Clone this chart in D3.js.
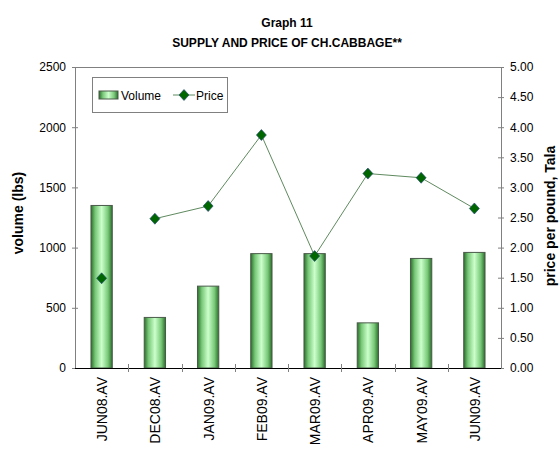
<!DOCTYPE html>
<html><head><meta charset="utf-8">
<script src="https://cdn.jsdelivr.net/npm/d3@7"></script>
<style>body{margin:0;background:#fff}svg{display:block;font-family:"Liberation Sans",Arial,sans-serif}</style>
</head><body><svg id="c" width="560" height="449"></svg>
<script>
const categories = ["JUN08.AV","DEC08.AV","JAN09.AV","FEB09.AV","MAR09.AV","APR09.AV","MAY09.AV","JUN09.AV"];
const volume = [1350, 420, 680, 950, 950, 375, 910, 960];
const price = [1.49, 2.48, 2.69, 3.87, 1.86, 3.23, 3.16, 2.65];
const volumeTicks = [0,500,1000,1500,2000,2500];
const priceTicks = [0,0.5,1,1.5,2,2.5,3,3.5,4,4.5,5];

const svg = d3.select("#c");
const L = 75, R = 501, T = 67, B = 368;
const x = d3.scaleBand().domain(categories).range([L, R]).paddingInner(0.6).paddingOuter(0.3);
const xb = d3.scaleBand().domain(categories).range([L, R]);
const yL = d3.scaleLinear().domain([0,2500]).range([B,T]);
const yR = d3.scaleLinear().domain([0,5]).range([B,T]);

const defs = svg.append("defs");
const g = defs.append("linearGradient").attr("id","bg").attr("x1","0").attr("x2","1").attr("y1","0").attr("y2","0");
[[0,"#2a6e2a"],[0.2,"#78c878"],[0.5,"#ccffcc"],[0.8,"#78c878"],[1,"#2a6e2a"]].forEach(s=>g.append("stop").attr("offset",s[0]).attr("stop-color",s[1]));

svg.append("line").attr("x1",L).attr("x2",R).attr("y1",T+0.5).attr("y2",T+0.5).attr("stroke","#808080");

svg.append("g").selectAll("rect").data(volume).join("rect")
  .attr("x",(d,i)=>x(categories[i])).attr("width",x.bandwidth())
  .attr("y",d=>yL(d)).attr("height",d=>B-yL(d))
  .attr("fill","url(#bg)").attr("stroke","#4a5a4a").attr("stroke-width",1);

const axL = d3.axisLeft(yL).tickValues(volumeTicks).tickSizeInner(3).tickSizeOuter(0).tickPadding(6).tickFormat(d3.format("d"));
const gl = svg.append("g").attr("transform",`translate(${L},0)`).call(axL);
gl.selectAll(".tick line").attr("x2",3).attr("x1",-3);
const axR = d3.axisRight(yR).tickValues(priceTicks).tickSizeInner(3).tickSizeOuter(0).tickPadding(6).tickFormat(d3.format(".2f"));
const gr = svg.append("g").attr("transform",`translate(${R},0)`).call(axR);
gr.selectAll(".tick line").attr("x1",-3).attr("x2",3);
gr.select(".domain").attr("stroke","#808080");
gl.select(".domain").attr("stroke","#808080");
[gl,gr].forEach(a=>{a.selectAll("text").attr("font-size",12).attr("fill","#000").style("font-family","'Liberation Sans',Arial,sans-serif");a.selectAll(".tick line").attr("stroke","#808080");});

const gb = svg.append("g");
gb.append("line").attr("x1",L).attr("x2",R).attr("y1",B+0.5).attr("y2",B+0.5).attr("stroke","#000");
gb.selectAll("line.t").data(categories.slice(1)).join("line").attr("class","t")
  .attr("x1",d=>Math.round(xb(d))+0.5).attr("x2",d=>Math.round(xb(d))+0.5).attr("y1",B-4).attr("y2",B+4).attr("stroke","#808080");
gb.selectAll("text").data(categories).join("text")
  .attr("transform",d=>`translate(${xb(d)+xb.bandwidth()/2+5.5},${B+9}) rotate(-90)`)
  .attr("text-anchor","end").attr("font-size",14).text(d=>d);

const line = d3.line().x((d,i)=>xb(categories[i+1])+xb.bandwidth()/2).y(d=>yR(d));
svg.append("path").datum(price.slice(1)).attr("d",line).attr("fill","none").attr("stroke","#5f8a5f").attr("stroke-width",1);
const dm = "M0,-5.5L5,0L0,5.5L-5,0Z";
svg.append("g").selectAll("path").data(price).join("path")
  .attr("transform",(d,i)=>`translate(${xb(categories[i])+xb.bandwidth()/2},${yR(d)})`)
  .attr("d",dm).attr("fill","#006600").attr("stroke","#1f3f7f").attr("stroke-width",0.6);

svg.append("text").attr("x",287).attr("y",27).attr("text-anchor","middle").attr("font-size",12).attr("font-weight","bold").text("Graph 11");
svg.append("text").attr("x",287).attr("y",47).attr("text-anchor","middle").attr("font-size",12).attr("font-weight","bold").text("SUPPLY AND PRICE OF CH.CABBAGE**");
svg.append("text").attr("transform","translate(23,213) rotate(-90)").attr("text-anchor","middle").attr("font-size",14).attr("font-weight","bold").text("volume (lbs)");
svg.append("text").attr("transform","translate(555,216) rotate(-90)").attr("text-anchor","middle").attr("font-size",14).attr("font-weight","bold").text("price per pound, Tala");

const lg = svg.append("g");
lg.append("rect").attr("x",92.5).attr("y",77.5).attr("width",135).attr("height",35).attr("fill","#fff").attr("stroke","#808080");
lg.append("rect").attr("x",99).attr("y",91).attr("width",19).attr("height",8).attr("fill","url(#bg)").attr("stroke","#4a5a4a");
lg.append("text").attr("x",121).attr("y",100).attr("font-size",12).text("Volume");
lg.append("line").attr("x1",173).attr("x2",195).attr("y1",95).attr("y2",95).attr("stroke","#5f8a5f");
lg.append("path").attr("transform","translate(184,95)").attr("d",dm).attr("fill","#006600").attr("stroke","#1f3f7f").attr("stroke-width",0.6);
lg.append("text").attr("x",196).attr("y",100).attr("font-size",12).text("Price");
</script></body></html>
